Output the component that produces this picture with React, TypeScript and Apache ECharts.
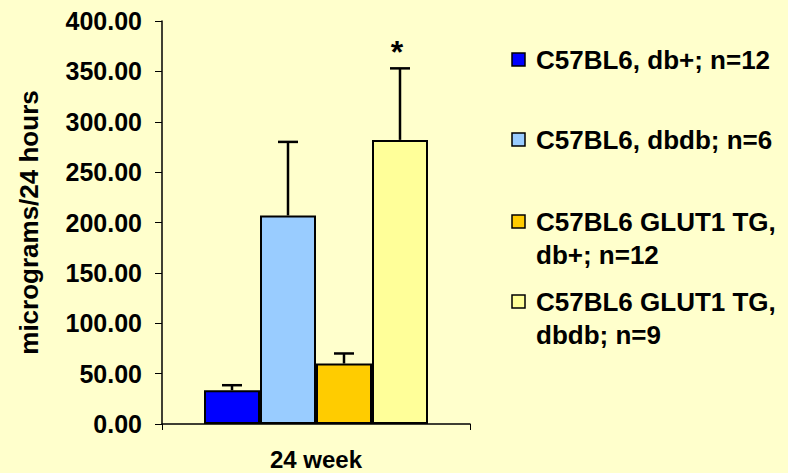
import React, { useEffect, useRef } from "react";
import * as echarts from "echarts";

// Urinary albumin excretion at 24 weeks, four mouse groups
const categories = ["24 week"];
const seriesNames = [
  "C57BL6, db+; n=12",
  "C57BL6, dbdb; n=6",
  "C57BL6 GLUT1 TG, db+; n=12",
  "C57BL6 GLUT1 TG, dbdb; n=9",
];
const legendLines = [
  ["C57BL6, db+; n=12"],
  ["C57BL6, dbdb; n=6"],
  ["C57BL6 GLUT1 TG,", "db+; n=12"],
  ["C57BL6 GLUT1 TG,", "dbdb; n=9"],
];
const means = [33.5, 207, 60, 282];
const errors = [5, 73, 10, 71];
const significance = ["", "", "", "*"];
const colors = ["#0000FF", "#99CCFF", "#FFCC00", "#FFFF99"];
const yTicks = { min: 0, max: 400, interval: 50 };

const BAR_WIDTH = 56;
const FONT = "'Liberation Sans', Arial, sans-serif";

export default function App() {
  const ref = useRef<HTMLDivElement>(null);

  useEffect(() => {
    document.body.style.margin = "0";
    const chart = echarts.init(ref.current!, null, { renderer: "svg" });

    const barSeries = seriesNames.map((name, i) => ({
      name,
      type: "bar",
      data: [means[i]],
      barWidth: BAR_WIDTH,
      barGap: "0%",
      itemStyle: { color: colors[i], borderColor: "#000", borderWidth: 2 },
    }));

    const errorData = means.map((m, i) => [0, i, m, m + errors[i]]);

    const errorSeries = {
      type: "custom",
      name: "error",
      z: 5,
      encode: { x: 0, y: [2, 3] },
      data: errorData,
      renderItem: (params: any, api: any) => {
        const idx = api.value(1);
        const base = api.coord([api.value(0), api.value(2)]);
        const top = api.coord([api.value(0), api.value(3)]);
        const x = base[0] + (idx - (seriesNames.length - 1) / 2) * BAR_WIDTH;
        const capHalf = 10;
        const style = { stroke: "#000", lineWidth: 2.5 };
        const children: any[] = [
          { type: "line", shape: { x1: x, y1: base[1], x2: x, y2: top[1] }, style },
          { type: "line", shape: { x1: x - capHalf, y1: top[1], x2: x + capHalf, y2: top[1] }, style },
        ];
        const mark = significance[idx];
        if (mark) {
          children.push({
            type: "text",
            x: x - 3,
            y: top[1] - 16,
            style: {
              text: mark,
              fill: "#000",
              font: `bold 32px ${FONT}`,
              align: "center",
              verticalAlign: "middle",
            },
          });
        }
        return { type: "group", children };
      },
    };

    const legendTop = [60, 140, 222, 302];
    const legendGraphics: any[] = [];
    legendLines.forEach((lines, i) => {
      legendGraphics.push({
        type: "rect",
        shape: { x: 512, y: legendTop[i] - 7, width: 13, height: 13 },
        style: { fill: colors[i], stroke: "#000", lineWidth: 1.5 },
      });
      lines.forEach((line, j) => {
        legendGraphics.push({
          type: "text",
          x: 536,
          y: legendTop[i] + j * 33,
          style: {
            text: line,
            fill: "#000",
            font: `bold 26px ${FONT}`,
            verticalAlign: "middle",
          },
        });
      });
    });

    chart.setOption({
      animation: false,
      backgroundColor: "#FFFFCC",
      textStyle: { fontFamily: FONT },
      grid: { left: 162, right: 318, top: 21, bottom: 49 },
      xAxis: {
        type: "category",
        data: categories,
        axisLine: { lineStyle: { color: "#000", width: 1.5 } },
        axisTick: { show: true, length: 6, lineStyle: { color: "#000" } },
        axisLabel: { color: "#000", fontWeight: "bold", fontSize: 24, margin: 23 },
      },
      yAxis: {
        type: "value",
        min: yTicks.min,
        max: yTicks.max,
        interval: yTicks.interval,
        name: "micrograms/24 hours",
        nameLocation: "middle",
        nameRotate: 90,
        nameGap: 120,
        nameTextStyle: { color: "#000", fontWeight: "bold", fontSize: 26 },
        axisLine: { show: true, lineStyle: { color: "#000", width: 1.5 } },
        axisTick: { show: true, length: 7, lineStyle: { color: "#000" } },
        splitLine: { show: false },
        axisLabel: {
          color: "#000",
          fontWeight: "bold",
          fontSize: 25,
          margin: 20,
          formatter: (v: number) => v.toFixed(2),
        },
      },
      series: [...barSeries, errorSeries],
      graphic: legendGraphics,
    });

    return () => chart.dispose();
  }, []);

  return <div ref={ref} style={{ width: 788, height: 473 }} />;
}
